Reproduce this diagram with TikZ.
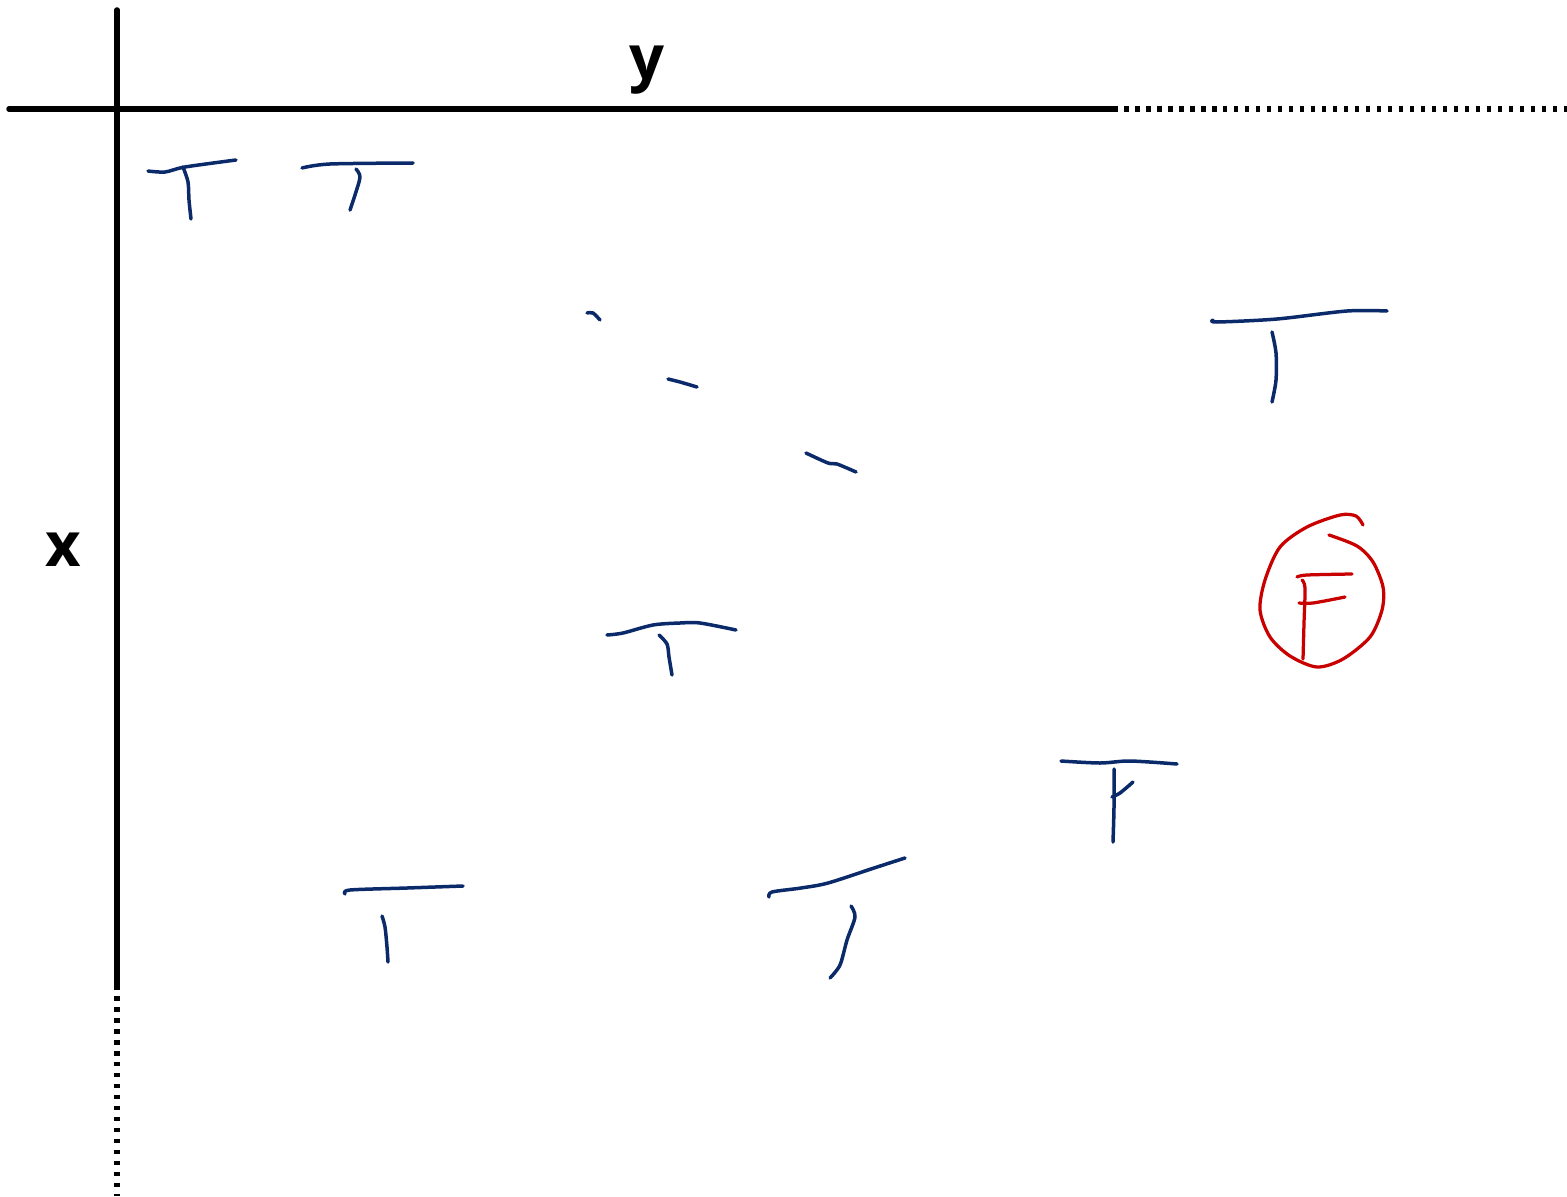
\documentclass[tikz,border=0pt]{standalone}
\usepackage{fontspec}
\setmainfont{Open Sans}
\usepackage{xcolor}
\definecolor{inkblue}{HTML}{0B2A6A}
\definecolor{inkred}{HTML}{C80000}

\begin{document}
\begin{tikzpicture}
		[x=0.02cm,y=-0.02cm,line cap=round,line join=round,
		axis/.style={line width=0.11cm,black},
		axisdots/.style={line width=0.11cm,black,line cap=butt,dash pattern=on 0.09cm off 0.13cm},
		pen/.style={line width=0.07cm,inkblue},
		redpen/.style={line width=0.065cm,inkred},
		lbl/.style={font=\fontsize{35}{40}\selectfont\bfseries,anchor=base,inner sep=0pt}]
		\useasboundingbox (0,0) rectangle (1567,1196);
		% axes
		\draw [axis] (9,109) -- (1113,109);
		\draw [axisdots] (1113,109) -- (1567,109);
		\draw [axis] (117,10) -- (117,985);
		\draw [axisdots] (117,985) -- (117,1196);
		\node [lbl] (ylab) at (647,80) {y};
		\node [lbl] (xlab) at (63,566) {x};
		% row 1
		\draw [pen] plot [smooth] coordinates {(148,171) (165,172) (185,167) (236,160)};
		\draw [pen] plot [smooth] coordinates {(183,167) (188,182) (189,200) (191,219)};
		\draw [pen] plot [smooth] coordinates {(302,168) (330,164) (413,163)};
		\draw [pen] plot [smooth] coordinates {(356,169) (360,177) (355,195) (350,210)};
		\draw [pen] plot [smooth] coordinates {(1213,320) (1217,322) (1277,319) (1347,311) (1387,311)};
		\draw [pen] plot [smooth] coordinates {(1272,332) (1276,353) (1276,380) (1272,402)};
		% dashes
		\draw [pen] plot [smooth] coordinates {(587,313) (593,313) (600,320)};
		\draw [pen] plot [smooth] coordinates {(668,379) (680,382) (697,387)};
		\draw [pen] plot [smooth] coordinates {(806,453) (828,463) (837,464) (856,472)};
		% middle
		\draw [pen] plot [smooth] coordinates {(607,635) (623,633) (653,625) (680,623) (700,623) (736,630)};
		\draw [pen] plot [smooth] coordinates {(659,635) (667,644) (669,657) (672,675)};
		\draw [pen] plot [smooth] coordinates {(1061,761) (1100,763) (1130,761) (1177,764)};
		\draw [pen] plot [smooth] coordinates {(1114,769) (1114,807) (1113,842)};
		\draw [pen] plot [smooth] coordinates {(1112,797) (1120,793) (1133,782)};
		% bottom row
		\draw [pen] plot [smooth] coordinates {(345,894) (350,890) (407,888) (463,886)};
		\draw [pen] plot [smooth] coordinates {(382,916) (385,927) (387,947) (388,962)};
		\draw [pen] plot [smooth] coordinates {(769,897) (772,892) (801,888) (828,883) (874,868) (905,858)};
		\draw [pen] plot [smooth] coordinates {(851,906) (855,917) (847,940) (840,965) (830,978)};
		% circled F
		\draw [redpen] plot [smooth] coordinates {(1363,525) (1356,516) (1340,515) (1307,527) (1280,547) (1265,580) (1260,610) (1270,637) (1290,656) (1317,667) (1343,659) (1370,637) (1382,610) (1383,587) (1373,562) (1357,546) (1329,535)};
		\draw [redpen] plot [smooth] coordinates {(1297,577) (1307,575) (1352,574)};
		\draw [redpen] plot [smooth] coordinates {(1302,580) (1305,588) (1304,623) (1303,659)};
		\draw [redpen] plot [smooth] coordinates {(1299,603) (1313,603) (1345,597)};
	\end{tikzpicture}
\end{document}
